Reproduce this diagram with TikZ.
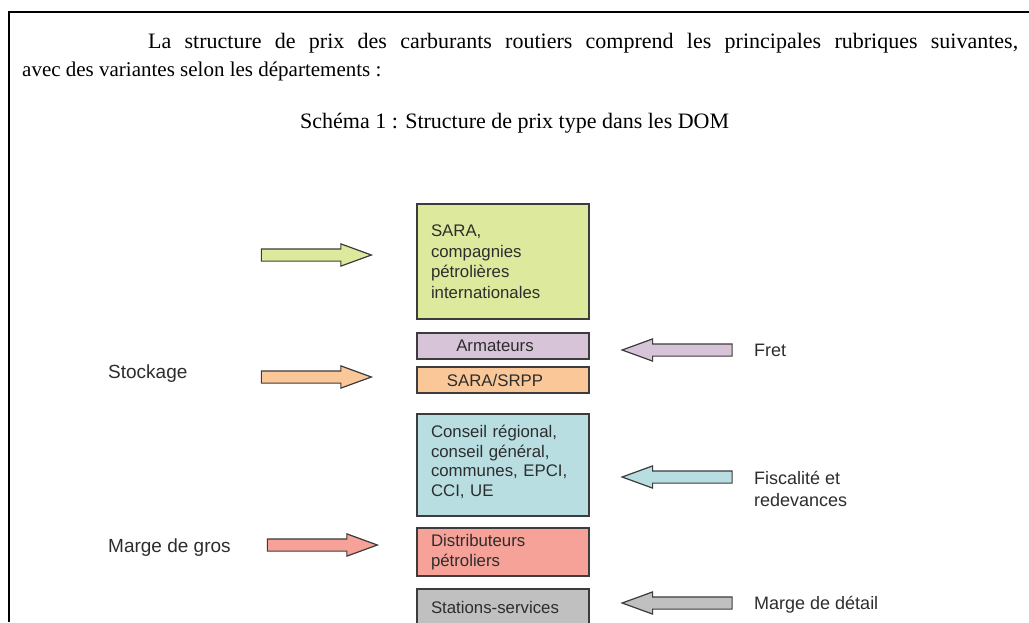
\documentclass[tikz,border=0pt]{standalone}
\usepackage{fontspec}
\setmainfont{Liberation Serif}
\newfontfamily\diagfont{Liberation Sans}
\usetikzlibrary{shapes.arrows}

\definecolor{boxline}{RGB}{60,60,60}
\definecolor{txtgray}{RGB}{45,45,45}
\definecolor{sarafill}{RGB}{221,234,158}
\definecolor{armfill}{RGB}{216,196,216}
\definecolor{srppfill}{RGB}{250,200,152}
\definecolor{fiscfill}{RGB}{184,222,226}
\definecolor{distfill}{RGB}{246,162,152}
\definecolor{statfill}{RGB}{192,192,192}

\tikzset{
  bodytext/.style={anchor=base west, inner sep=0pt, font=\fontsize{22}{26}\selectfont},
  pricebox/.style={draw=boxline, line width=1.2pt, minimum width=172pt, inner xsep=14pt,
    text=txtgray, font=\diagfont\fontsize{16.8}{20.5}\selectfont},
  leftbox/.style={pricebox, text width=144pt, align=left},
  sidetext/.style={anchor=base west, inner sep=0pt, text=txtgray, font=\diagfont\fontsize{18}{21}\selectfont},
  pricearrow/.style={single arrow, draw=boxline, line width=1.2pt, inner sep=5.5pt,
    single arrow head extend=5pt, single arrow tip angle=40, minimum height=110pt},
  backarrow/.style={pricearrow, shape border rotate=180}
}

\begin{document}
\begin{tikzpicture}[x=1pt,y=-1pt]
\useasboundingbox (0,0) rectangle (1029,622);
\draw[line width=2.5pt] (9,622) -- (9,12) -- (1029,12);

% texte
\node[bodytext] (intro) at (148,48) {\makebox[870pt][s]{La structure de prix des carburants routiers comprend les principales rubriques suivantes,}};
\node[bodytext, font=\fontsize{21}{26}\selectfont] (intro2) at (22,76) {avec des variantes selon les départements :};
\node[bodytext] (titre) at (300,128) {Schéma 1 : Structure de prix type dans les DOM};

% rubriques
\node[leftbox, fill=sarafill, minimum height=115pt] (sara) at (503,261.5) {SARA,\\compagnies\\pétrolières\\internationales};
\node[pricebox, fill=armfill, minimum height=26pt] (armateurs) at (503,346) {\hspace*{-16pt}Armateurs};
\node[pricebox, fill=srppfill, minimum height=26pt] (srpp) at (503,380) {\hspace*{-16pt}SARA/SRPP};
\node[leftbox, fill=fiscfill, minimum height=102pt, font=\diagfont\fontsize{16.8}{19.5}\selectfont] (fisc) at (503,465) {Conseil régional,\\conseil général,\\communes, EPCI,\\CCI, UE\vspace*{6pt}};
\node[leftbox, fill=distfill, minimum height=48pt, font=\diagfont\fontsize{16.8}{19.5}\selectfont] (distrib) at (503,552) {Distributeurs\\pétroliers};
\node[leftbox, fill=statfill, minimum height=36pt] (stations) at (503,607) {Stations-services};

% fleches
\node[pricearrow, fill=sarafill] (flsara) at (308,255) {};
\node[pricearrow, fill=srppfill] (flstock) at (308,377) {};
\node[pricearrow, fill=distfill] (flgros) at (314,545) {};
\node[backarrow, fill=armfill] (flfret) at (685.5,350) {};
\node[backarrow, fill=fiscfill] (flfisc) at (685.5,477) {};
\node[backarrow, fill=statfill] (fldetail) at (685.5,603) {};

\node[sidetext, font=\diagfont\fontsize{19}{21}\selectfont] (stockage) at (108,378) {Stockage};
\node[sidetext, font=\diagfont\fontsize{19}{21}\selectfont] (gros) at (108,552) {Marge de gros};
\node[sidetext] (fret) at (754,356) {Fret};
\node[sidetext] (fiscalite) at (754,484) {Fiscalité et};
\node[sidetext] (redevances) at (754,506) {redevances};
\node[sidetext] (detail) at (754,609) {Marge de détail};
\end{tikzpicture}
\end{document}
